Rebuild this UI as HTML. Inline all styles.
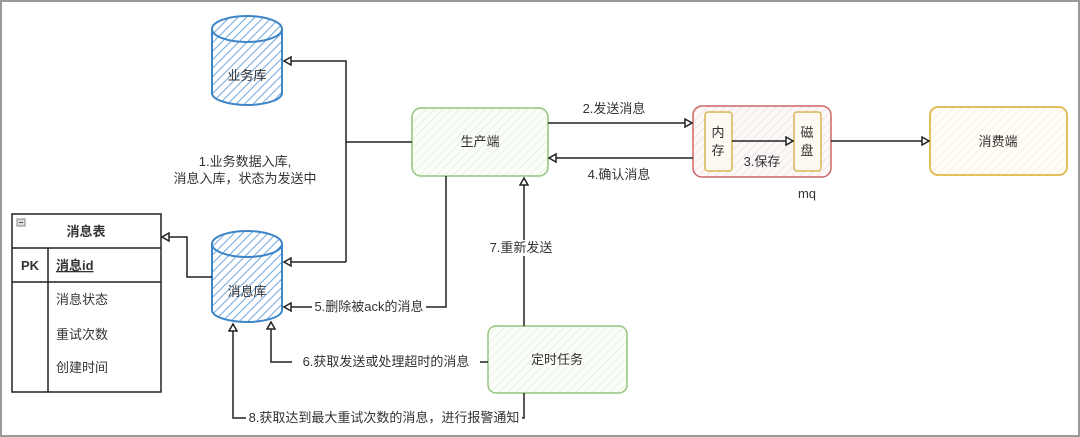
<!DOCTYPE html>
<html><head><meta charset="utf-8"><style>
html,body{margin:0;padding:0;background:#fff}
svg{display:block}
text{font-family:"Liberation Sans","Noto Sans CJK SC",sans-serif;fill:#333;font-size:13px}
</style></head><body>
<svg width="1080" height="437" viewBox="0 0 1080 437" xmlns="http://www.w3.org/2000/svg">
<defs>
<pattern id="hb" width="6" height="6" patternUnits="userSpaceOnUse" patternTransform="rotate(45)"><rect width="6" height="6" fill="#fff"/><line x1="0" y1="0" x2="0" y2="6" stroke="#6fa8dc" stroke-width="2"/></pattern>
<pattern id="hg" width="6" height="6" patternUnits="userSpaceOnUse" patternTransform="rotate(45)"><rect width="6" height="6" fill="#fbfdf8"/><line x1="0" y1="0" x2="0" y2="6" stroke="#e2eed8" stroke-width="1.5"/></pattern>
<pattern id="hr" width="6" height="6" patternUnits="userSpaceOnUse" patternTransform="rotate(45)"><rect width="6" height="6" fill="#fdf8f8"/><line x1="0" y1="0" x2="0" y2="6" stroke="#f2dada" stroke-width="1.5"/></pattern>
<pattern id="hy" width="6" height="6" patternUnits="userSpaceOnUse" patternTransform="rotate(45)"><rect width="6" height="6" fill="#fffdf6"/><line x1="0" y1="0" x2="0" y2="6" stroke="#f7eed6" stroke-width="1.5"/></pattern>
<marker id="a" markerWidth="10" markerHeight="10" refX="8" refY="5" orient="auto" markerUnits="userSpaceOnUse"><path d="M1,1 L8,5 L1,9 Z" fill="#fff" stroke="#222" stroke-width="1.5"/></marker>
</defs>
<rect x="1" y="1" width="1078" height="435" fill="#fff" stroke="#999" stroke-width="2"/>

<path d="M212,29 L212,93 A35,12 0 0 0 282,93 L282,29" fill="url(#hb)" stroke="#3d85c6" stroke-width="2"/>
<ellipse cx="247" cy="29" rx="35" ry="13" fill="url(#hb)" stroke="#3d85c6" stroke-width="2"/>
<text x="247" y="80" text-anchor="middle">业务库</text>

<path d="M212,244 L212,310 A35,12 0 0 0 282,310 L282,244" fill="url(#hb)" stroke="#3d85c6" stroke-width="2"/>
<ellipse cx="247" cy="244" rx="35" ry="13" fill="url(#hb)" stroke="#3d85c6" stroke-width="2"/>
<text x="247" y="296" text-anchor="middle">消息库</text>

<rect x="12" y="214" width="149" height="178" fill="#fff" stroke="#222" stroke-width="1.5"/>
<line x1="12" y1="248" x2="161" y2="248" stroke="#222" stroke-width="1.5"/>
<line x1="12" y1="282" x2="161" y2="282" stroke="#222" stroke-width="1.5"/>
<line x1="48" y1="248" x2="48" y2="392" stroke="#222" stroke-width="1.5"/>
<rect x="17" y="219" width="8" height="7" fill="#ddd" stroke="#888"/><line x1="19" y1="222.5" x2="23" y2="222.5" stroke="#555"/>
<text x="86" y="236" text-anchor="middle" font-weight="bold" font-size="14">消息表</text>
<text x="21" y="270" font-weight="bold" font-size="14">PK</text>
<text x="56" y="270" font-weight="bold" font-size="14" text-decoration="underline">消息id</text>
<text x="56" y="304">消息状态</text>
<text x="56" y="339">重试次数</text>
<text x="56" y="372">创建时间</text>

<rect x="412" y="108" width="136" height="68" rx="9" fill="url(#hg)" stroke="#93c47d" stroke-width="1.5"/>
<text x="480" y="146" text-anchor="middle">生产端</text>

<rect x="693" y="106" width="138" height="71" rx="9" fill="url(#hr)" stroke="#cc6666" stroke-width="1.5"/>
<rect x="705" y="112" width="27" height="59" rx="3" fill="#fdf8f0" stroke="#d6b656" stroke-width="1.5"/>
<rect x="794" y="112" width="27" height="59" rx="3" fill="#fdf8f0" stroke="#d6b656" stroke-width="1.5"/>
<text x="718" y="137" text-anchor="middle">内</text><text x="718" y="155" text-anchor="middle">存</text>
<text x="807" y="137" text-anchor="middle">磁</text><text x="807" y="155" text-anchor="middle">盘</text>
<text x="762" y="166" text-anchor="middle">3.保存</text>
<text x="807" y="198" text-anchor="middle">mq</text>

<rect x="930" y="107" width="137" height="68" rx="8" fill="url(#hy)" stroke="#e0b84a" stroke-width="1.8"/>
<text x="998" y="146" text-anchor="middle">消费端</text>

<rect x="488" y="326" width="139" height="67" rx="8" fill="url(#hg)" stroke="#93c47d" stroke-width="1.5"/>
<text x="557" y="364" text-anchor="middle">定时任务</text>

<g fill="none" stroke="#222" stroke-width="1.5">
<path d="M412,142 L346,142"/>
<path d="M346,262 L346,61 L284,61" marker-end="url(#a)"/>
<path d="M346,262 L284,262" marker-end="url(#a)"/>
<path d="M212,277 L187,277 L187,237 L162,237" marker-end="url(#a)"/>
<path d="M446,176 L446,307 L284,307" marker-end="url(#a)"/>
<path d="M488,362 L271,362 L271,322" marker-end="url(#a)"/>
<path d="M524,393 L524,418 L233,418 L233,324" marker-end="url(#a)"/>
<path d="M524,326 L524,178" marker-end="url(#a)"/>
<path d="M548,123 L692,123" marker-end="url(#a)"/>
<path d="M693,158 L549,158" marker-end="url(#a)"/>
<path d="M732,141 L793,141" marker-end="url(#a)"/>
<path d="M831,141 L929,141" marker-end="url(#a)"/>
</g>

<text x="245" y="166" text-anchor="middle">1.业务数据入库,</text>
<text x="245" y="183" text-anchor="middle">消息入库，状态为发送中</text>
<text x="614" y="113" text-anchor="middle">2.发送消息</text>
<text x="619" y="179" text-anchor="middle">4.确认消息</text>
<rect x="488" y="240" width="66" height="16" fill="#fff"/>
<text x="521" y="252" text-anchor="middle">7.重新发送</text>
<rect x="312" y="300" width="114" height="15" fill="#fff"/>
<text x="369" y="311" text-anchor="middle">5.删除被ack的消息</text>
<rect x="292" y="354" width="188" height="16" fill="#fff"/>
<text x="386" y="366" text-anchor="middle">6.获取发送或处理超时的消息</text>
<rect x="246" y="410" width="276" height="16" fill="#fff"/>
<text x="384" y="422" text-anchor="middle">8.获取达到最大重试次数的消息，进行报警通知</text>
</svg>
</body></html>
